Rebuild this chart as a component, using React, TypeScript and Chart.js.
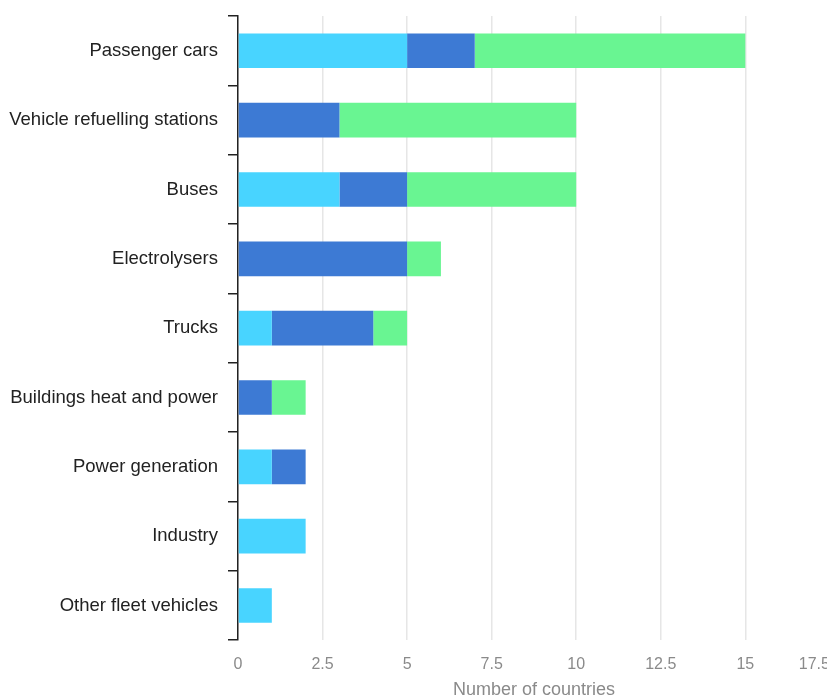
import React, { useEffect, useRef } from "react";
import { Chart, registerables } from "chart.js";

Chart.register(...registerables);

const categories = [
  "Passenger cars",
  "Vehicle refuelling stations",
  "Buses",
  "Electrolysers",
  "Trucks",
  "Buildings heat and power",
  "Power generation",
  "Industry",
  "Other fleet vehicles",
];
const seriesA = [5, 0, 3, 0, 1, 0, 1, 2, 1];
const seriesB = [2, 3, 2, 5, 3, 1, 1, 0, 0];
const seriesC = [8, 7, 5, 1, 1, 1, 0, 0, 0];
const seriesNames = ["Series A", "Series B", "Series C"];
const xTicks = [0, 2.5, 5, 7.5, 10, 12.5, 15, 17.5];

// target plot area in page pixels
const AREA = { left: 238, right: 829.5, top: 16, bottom: 640 };
const CANVAS_LEFT = 8;

export default function App() {
  const ref = useRef<HTMLCanvasElement | null>(null);
  useEffect(() => {
    const canvas = ref.current;
    if (!canvas) return;
    const font = "'Liberation Sans', Arial, sans-serif";
    const chart = new Chart(canvas, {
      type: "bar",
      data: {
        labels: categories,
        datasets: [
          { label: seriesNames[0], data: seriesA, backgroundColor: "#48D4FF" },
          { label: seriesNames[1], data: seriesB, backgroundColor: "#3D7AD4" },
          { label: seriesNames[2], data: seriesC, backgroundColor: "#69F592" },
        ].map((d) => ({ ...d, barPercentage: 0.5, categoryPercentage: 1, borderWidth: 0 })),
      },
      options: {
        indexAxis: "y",
        animation: false,
        responsive: false,
        maintainAspectRatio: false,
        layout: { padding: 0 },
        plugins: { legend: { display: false }, tooltip: { enabled: false } },
        scales: {
          x: {
            stacked: true,
            min: 0,
            max: 17.5,
            afterBuildTicks: (axis: any) => {
              axis.ticks = xTicks.map((v) => ({ value: v }));
            },
            ticks: {
              color: "#8a8a8a",
              font: { family: font, size: 16 },
              padding: 15,
              maxRotation: 0,
              callback: (v: any) => (Number(v) === 17.5 ? "17.5       " : String(v)),
            },
            grid: { color: "#e6e6e6", lineWidth: 1.5, drawTicks: false },
            border: { display: false },
            title: {
              display: true,
              text: "Number of countries",
              color: "#8a8a8a",
              font: { family: font, size: 18 },
              padding: { top: -10, bottom: 0 },
            },
          },
          y: {
            stacked: true,
            afterFit: (axis: any) => {
              axis.width = AREA.left - CANVAS_LEFT;
            },
            ticks: { color: "#222", font: { family: font, size: 18.5 }, padding: 10 },
            grid: {
              offset: true,
              drawOnChartArea: false,
              tickLength: 10,
              color: "#222",
              lineWidth: 1.5,
            },
            border: { display: true, color: "#222", width: 1.5 },
          },
        },
      },
    });
    // fit the canvas so the plot area lands on the target rectangle
    const ca = chart.chartArea;
    const padR = chart.width - ca.right;
    const padT = ca.top;
    const padB = chart.height - ca.bottom;
    const w = Math.round(AREA.right - CANVAS_LEFT + padR);
    const h = Math.round(padT + (AREA.bottom - AREA.top) + padB);
    canvas.style.top = `${Math.round(AREA.top - padT)}px`;
    chart.resize(w, h);
    return () => chart.destroy();
  }, []);
  return (
    <div style={{ position: "fixed", left: 0, top: 0, width: 827, height: 696, overflow: "hidden", background: "#fff" }}>
      <canvas
        ref={ref}
        width={850}
        height={704}
        style={{ position: "absolute", left: CANVAS_LEFT, top: 0, display: "block" }}
      />
    </div>
  );
}
